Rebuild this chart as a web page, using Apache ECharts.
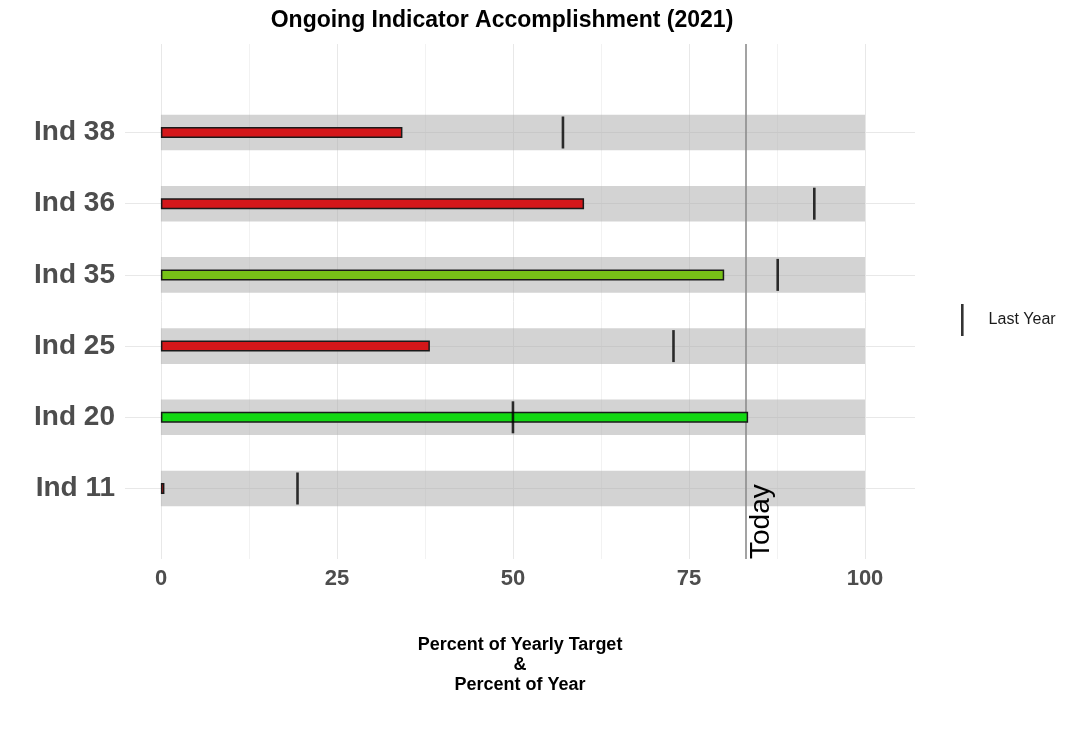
<!DOCTYPE html>
<html>
<head>
<meta charset="utf-8">
<script src="https://cdn.jsdelivr.net/npm/echarts@6/dist/echarts.min.js"></script>
<style>html,body{margin:0;padding:0;background:#fff;}#c{width:1080px;height:743px;}</style>
</head>
<body>
<div id="c"></div>
<script>
// ---- data (bottom to top) ----
const indicators = ['Ind 11', 'Ind 20', 'Ind 25', 'Ind 35', 'Ind 36', 'Ind 38'];
const accomplished = [0.5, 83.4, 38.2, 80.0, 60.1, 34.3];
const lastYear = [19.4, 50.0, 72.8, 87.6, 92.8, 57.1];
const target = [100, 100, 100, 100, 100, 100];
const status = ['behind', 'ontrack', 'behind', 'near', 'behind', 'behind'];
const todayPct = 83.0;
const xTicks = [0, 25, 50, 75, 100];

const statusColor = { behind: '#d4171a', near: '#77c117', ontrack: '#12d812' };

const chart = echarts.init(document.getElementById('c'), null, { renderer: 'canvas' });
const FONT = 'Liberation Sans, Arial, sans-serif';
const XMIN = -5.1, XMAX = 107.1;

const option = {
  animation: false,
  backgroundColor: '#ffffff',
  title: {
    text: 'Ongoing Indicator Accomplishment (2021)',
    left: 497, top: 4, textAlign: 'center',
    textStyle: { fontFamily: FONT, fontSize: 23, fontWeight: 'bold', color: '#000' }
  },
  legend: {
    data: [{ name: 'Last Year', icon: 'rect' }],
    left: 956, top: 299, orient: 'vertical',
    itemWidth: 2.6, itemHeight: 32,
    textStyle: { fontFamily: FONT, fontSize: 16, color: '#1a1a1a', padding: [0, 0, 0, 20] }
  },
  grid: [
    { left: 125, right: 165, top: 96.9, bottom: 218.9 },
    { left: 161, right: 215, top: 44, bottom: 184 },
    { left: 125, right: 165, top: 44, bottom: 184 }
  ],
  xAxis: [
    { gridIndex: 0, type: 'value', min: XMIN, max: XMAX, show: false },
    {
      gridIndex: 1, type: 'value', min: 0, max: 100, interval: 25,
      axisLine: { show: false }, axisTick: { show: false },
      axisLabel: { margin: 9, fontFamily: FONT, fontSize: 22, fontWeight: 'bold', color: '#4d4d4d',
        formatter: v => (xTicks.indexOf(v) >= 0 ? String(v) : '') },
      splitLine: { show: true, lineStyle: { color: '#e8e8e8', width: 1 } },
      minorTick: { show: false, splitNumber: 2 },
      minorSplitLine: { show: true, lineStyle: { color: '#f2f2f2', width: 1 } }
    },
    {
      gridIndex: 2, type: 'value', min: XMIN, max: XMAX,
      axisLine: { show: false }, axisTick: { show: false }, axisLabel: { show: false }, splitLine: { show: false },
      name: 'Percent of Yearly Target\n&\nPercent of Year',
      nameLocation: 'middle', nameGap: 76,
      nameTextStyle: { fontFamily: FONT, fontSize: 18, fontWeight: 'bold', color: '#000', lineHeight: 20, align: 'center' }
    }
  ],
  yAxis: [
    {
      gridIndex: 0, type: 'category', data: indicators,
      axisLine: { show: false }, axisTick: { show: false }, splitLine: { show: false },
      axisLabel: { margin: 10, fontFamily: FONT, fontSize: 28, fontWeight: 'bold', color: '#4d4d4d' }
    },
    { gridIndex: 0, type: 'category', data: indicators, show: false },
    { gridIndex: 1, type: 'value', min: 0, max: 1, show: false },
    { gridIndex: 2, type: 'value', min: 0, max: 1, show: false }
  ],
  series: [
    {
      name: 'hgrid', type: 'scatter', xAxisIndex: 0, yAxisIndex: 0, data: [], z: 1, silent: true,
      markLine: {
        z: 1, silent: true, symbol: 'none', label: { show: false },
        lineStyle: { color: '#e8e8e8', width: 1, type: 'solid' },
        data: indicators.map(n => ({ yAxis: n }))
      }
    },
    {
      name: 'Target', type: 'bar', xAxisIndex: 0, yAxisIndex: 0, data: target,
      barWidth: 35.6, z: 2, silent: true,
      itemStyle: { color: 'rgba(167,167,167,0.5)' }
    },
    {
      name: 'today', type: 'scatter', xAxisIndex: 2, yAxisIndex: 3, data: [], z: 3, silent: true,
      markLine: {
        z: 3, silent: true, symbol: 'none',
        lineStyle: { color: '#8c8c8c', width: 1.6, type: 'solid' },
        label: {
          show: true, formatter: 'Today', position: 'insideStartBottom', distance: [0, 2],
          fontFamily: FONT, fontSize: 28, color: '#000'
        },
        data: [{ xAxis: todayPct }]
      }
    },
    {
      name: 'Accomplished', type: 'bar', xAxisIndex: 0, yAxisIndex: 1,
      barWidth: 11, z: 4,
      data: accomplished.map((v, i) => ({
        value: v,
        itemStyle: { color: statusColor[status[i]], borderColor: '#1a1a1a', borderWidth: 1.5 }
      }))
    },
    {
      name: 'Last Year', type: 'scatter', xAxisIndex: 0, yAxisIndex: 0,
      symbol: 'rect', symbolSize: [2.6, 32], z: 5,
      itemStyle: { color: '#000' },
      data: lastYear.map((v, i) => [v, indicators[i]])
    }
  ]
};
chart.setOption(option);
</script>
</body>
</html>
